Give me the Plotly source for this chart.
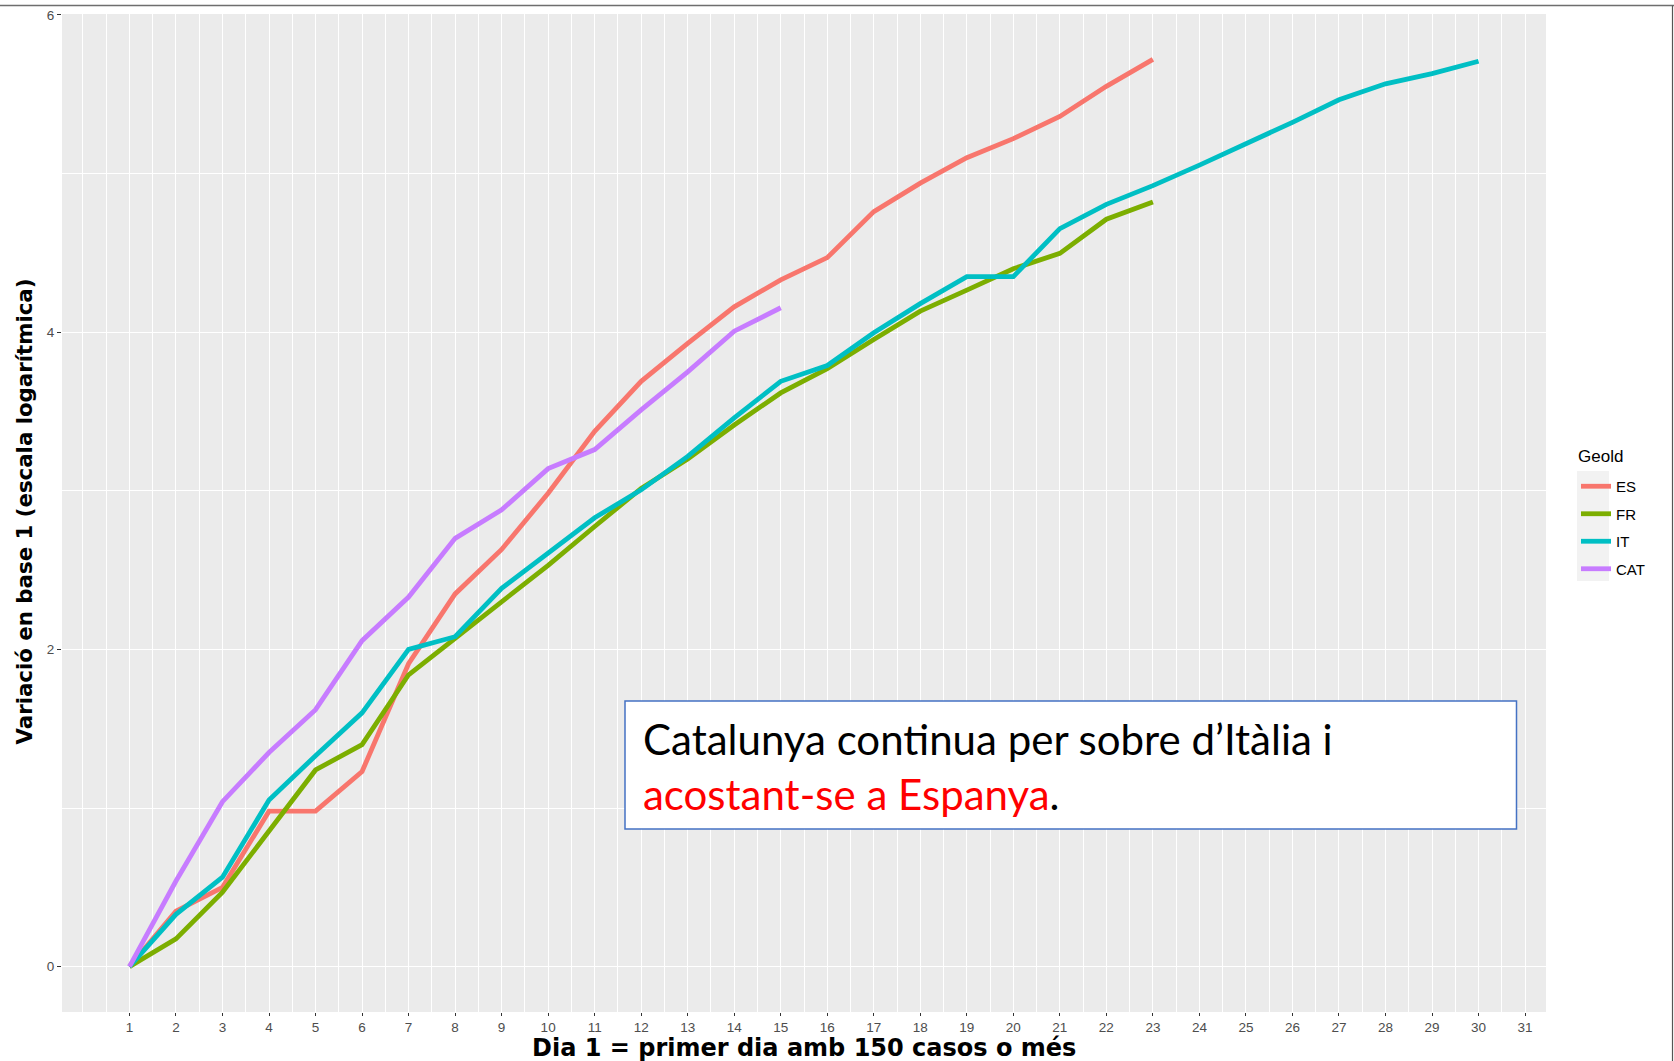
import plotly.graph_objects as go

# ---- data ----
series_names = ["ES", "FR", "IT", "CAT"]
series_colors = ["#F8766D", "#7CAE00", "#00BFC4", "#C77CFF"]

es_values = [0, 0.35, 0.50, 0.98, 0.98, 1.23, 1.91, 2.35, 2.63, 2.985, 3.375, 3.69,
             3.93, 4.16, 4.33, 4.47, 4.76, 4.94, 5.10, 5.22, 5.36, 5.55, 5.72]
fr_values = [0, 0.175, 0.47, 0.855, 1.24, 1.40, 1.84, 2.07, 2.30, 2.53, 2.775, 3.015,
             3.20, 3.415, 3.617, 3.77, 3.954, 4.133, 4.265, 4.40, 4.497, 4.712, 4.82]
it_values = [0, 0.33, 0.564, 1.05, 1.33, 1.60, 2.00, 2.08, 2.385, 2.605, 2.83, 3.006,
             3.217, 3.46, 3.69, 3.79, 3.996, 4.18, 4.35, 4.35, 4.653, 4.806, 4.924,
             5.053, 5.186, 5.323, 5.465, 5.566, 5.63, 5.708]
cat_values = [0, 0.54, 1.04, 1.35, 1.62, 2.055, 2.33, 2.70, 2.88, 3.14, 3.26, 3.51,
              3.75, 4.006, 4.154]

x_ticks = list(range(1, 32))
y_ticks = [0, 2, 4, 6]

x_title = "Dia 1 = primer dia amb 150 casos o més"
y_title = "Variació en base 1 (escala logarítmica)"
legend_title = "Geold"
note_line1 = "Catalunya continua per sobre d’Itàlia i"
note_line2_red = "acostant-se a Espanya"
note_line2_end = "."

all_values = [es_values, fr_values, it_values, cat_values]

fig = go.Figure()
for name, color, vals in zip(series_names, series_colors, all_values):
    days = list(range(1, len(vals) + 1))
    fig.add_trace(go.Scatter(
        x=days, y=vals, mode="lines", name=name, legendgroup=name,
        line=dict(color=color, width=4.8),
    ))

W, H = 1674, 1061
ml, mr, mt, mb = 62, 128, 14, 49

def px_x(p):
    return (p - ml) / (W - ml - mr)

def px_y(p):
    return (H - mb - p) / (H - mt - mb)

axis_font = dict(family="Liberation Sans, Arial", size=13.5, color="#4D4D4D")

fig.update_layout(
    width=W, height=H,
    margin=dict(l=ml, r=mr, t=mt, b=mb, autoexpand=False),
    paper_bgcolor="white",
    plot_bgcolor="#EBEBEB",
    showlegend=True,
    legend=dict(
        font=dict(family="Liberation Sans, Arial", size=15, color="#000000"),
        x=px_x(1576), y=px_y(470), xanchor="left", yanchor="top",
        bgcolor="rgba(0,0,0,0)", tracegroupgap=5,
    ),
    xaxis=dict(
        range=[-0.45, 31.45], tickmode="array", tickvals=x_ticks,
        ticktext=[str(v) for v in x_ticks], automargin=False,
        showgrid=True, gridcolor="white", gridwidth=1.4,
        minor=dict(dtick=0.5, tick0=0, showgrid=True, gridcolor="white", gridwidth=0.8),
        ticks="outside", ticklen=3, tickcolor="#333333", tickwidth=1,
        tickfont=axis_font, zeroline=False, showline=False,
    ),
    yaxis=dict(
        range=[-0.286, 6.006], tickmode="array", tickvals=y_ticks,
        ticktext=[str(v) for v in y_ticks], automargin=False,
        showgrid=True, gridcolor="white", gridwidth=1.4,
        minor=dict(dtick=1, tick0=0, showgrid=True, gridcolor="white", gridwidth=0.8),
        ticks="outside", ticklen=4, tickcolor="#333333", tickwidth=1,
        tickfont=axis_font, zeroline=False, showline=False,
    ),
)

shapes = [
    # top border line of the screenshot
    dict(type="line", xref="paper", yref="paper", x0=px_x(0), x1=px_x(W), y0=px_y(5.5), y1=px_y(5.5),
         line=dict(color="#6E6E6E", width=1.5)),
    # right border line
    dict(type="line", xref="paper", yref="paper", x0=px_x(1672.5), x1=px_x(1672.5), y0=px_y(5.5), y1=px_y(H),
         line=dict(color="#555555", width=1.2)),
    # legend key background
    dict(type="rect", xref="paper", yref="paper", x0=px_x(1577), x1=px_x(1609), y0=px_y(581), y1=px_y(471),
         line=dict(width=0), fillcolor="#F2F2F2", layer="below"),
    # annotation box
    dict(type="rect", xref="paper", yref="paper", x0=px_x(625), x1=px_x(1516.5), y0=px_y(829), y1=px_y(701),
         line=dict(color="#4472C4", width=1.5), fillcolor="white", layer="above"),
]
fig.update_layout(shapes=shapes)

# legend title
fig.add_annotation(
    xref="paper", yref="paper", x=px_x(1576), y=px_y(456), xanchor="left", yanchor="middle",
    showarrow=False, text=legend_title,
    font=dict(family="Liberation Sans, Arial", size=17, color="#000000"),
)

# axis titles
fig.add_annotation(
    xref="paper", yref="paper", x=px_x(804), y=px_y(1047.5), xanchor="center", yanchor="middle",
    showarrow=False, text="<b>" + x_title + "</b>",
    font=dict(family="DejaVu Sans", size=24, color="#000000"),
)
fig.add_annotation(
    xref="paper", yref="paper", x=px_x(23.5), y=px_y(512), xanchor="center", yanchor="middle",
    showarrow=False, textangle=-90, text="<b>" + y_title + "</b>",
    font=dict(family="DejaVu Sans", size=21.3, color="#000000"),
)

# note box text
fig.add_annotation(
    xref="paper", yref="paper", x=px_x(641), y=px_y(766), xanchor="left", yanchor="middle",
    align="left", showarrow=False,
    text=(note_line1 + "<br><span style='color:#FF0000'>" + note_line2_red + "</span>" + note_line2_end),
    font=dict(family="Lato", size=42, color="#000000"),
)

fig.write_html(
    "out.html",
    config={"displayModeBar": False},
    post_script="document.body.style.margin='0';document.body.style.overflow='hidden';",
)
